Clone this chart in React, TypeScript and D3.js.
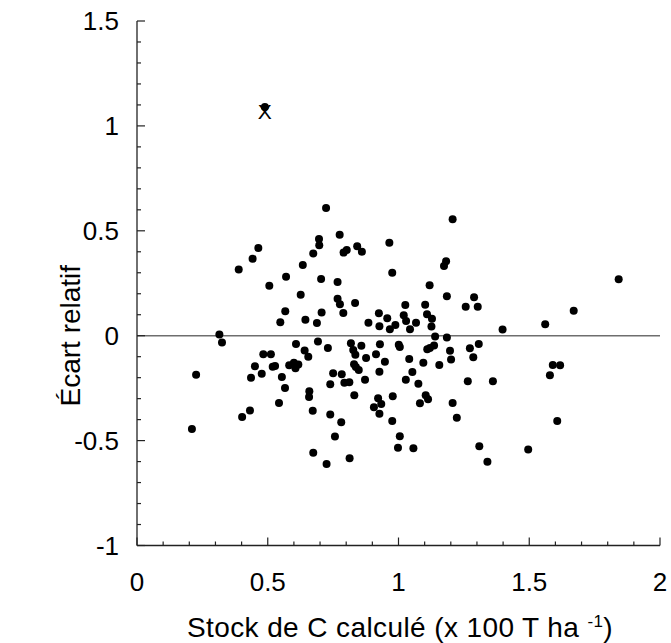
import React from "react";
import * as d3 from "d3";

const xTicks = [0, 0.5, 1, 1.5, 2];
const yTicks = [-1, -0.5, 0, 0.5, 1, 1.5];
const xTickLabels = ["0", "0.5", "1", "1.5", "2"];
const yTickLabels = ["-1", "-0.5", "0", "0.5", "1", "1.5"];

const stockX = [
  0.464, 0.442, 0.389, 0.506, 0.570, 0.634, 0.674, 0.696, 0.697, 0.626, 0.704, 0.567, 0.548, 0.644, 0.688, 0.706,
  0.315, 0.325, 0.608, 0.692, 0.641, 0.655, 0.483, 0.512, 0.451, 0.519, 0.528, 0.582, 0.600, 0.617, 0.606,
  0.477, 0.436, 0.554, 0.226, 0.566, 0.659, 0.658, 0.543, 0.432, 0.402, 0.672, 0.210, 0.674,
  0.723, 0.775, 0.790, 0.802, 0.842, 0.860, 0.965, 0.976, 0.767, 0.767, 0.776, 0.834, 1.119, 1.182, 1.174, 1.185,
  0.789, 0.885, 0.925, 0.927, 0.957, 0.967, 0.988, 1.026, 1.020, 1.029, 1.044, 1.067, 1.102, 1.109, 1.128, 1.126,
  1.140, 1.185, 0.730, 0.818, 0.827, 0.835, 0.858, 0.929, 1.001, 1.005, 0.914, 0.876, 0.948, 0.830, 0.837, 0.848,
  0.750, 0.783, 0.739, 0.793, 0.812, 0.872, 0.927, 1.041, 1.095, 1.110, 1.120, 1.136, 1.156, 1.197, 1.201, 1.053,
  1.028, 1.076, 0.831, 0.922, 0.934, 0.906, 0.927, 0.978, 1.104, 1.113, 1.082, 0.739, 0.781, 0.976, 0.757, 1.005,
  0.998, 1.057, 0.813, 0.725, 1.207, 1.289, 1.257, 1.303, 1.842, 1.670, 1.561, 1.398, 1.273, 1.286, 1.307, 1.265,
  1.361, 1.590, 1.618, 1.579, 1.207, 1.223, 1.607, 1.309, 1.496, 1.340, 0.489,
];

const ecartY = [
  0.418, 0.367, 0.316, 0.238, 0.281, 0.337, 0.392, 0.461, 0.431, 0.195, 0.270, 0.116, 0.064, 0.076, 0.060, 0.110,
  0.006, -0.033, -0.040, -0.028, -0.071, -0.100, -0.089, -0.089, -0.146, -0.148, -0.144, -0.141, -0.129, -0.137, -0.155,
  -0.181, -0.200, -0.197, -0.186, -0.249, -0.265, -0.292, -0.321, -0.357, -0.387, -0.358, -0.445, -0.558,
  0.609, 0.481, 0.396, 0.408, 0.426, 0.400, 0.443, 0.300, 0.256, 0.176, 0.150, 0.156, 0.240, 0.355, 0.332, 0.188,
  0.108, 0.062, 0.107, 0.045, 0.083, 0.031, 0.051, 0.146, 0.097, 0.070, 0.031, 0.062, 0.148, 0.102, 0.081, 0.044,
  -0.004, -0.008, -0.059, -0.036, -0.068, -0.091, -0.048, -0.041, -0.043, -0.054, -0.089, -0.106, -0.124, -0.136, -0.149, -0.163,
  -0.179, -0.184, -0.232, -0.224, -0.222, -0.210, -0.172, -0.111, -0.129, -0.065, -0.059, -0.047, -0.140, -0.072, -0.113, -0.173,
  -0.210, -0.229, -0.284, -0.298, -0.326, -0.341, -0.372, -0.289, -0.284, -0.303, -0.322, -0.375, -0.413, -0.407, -0.481, -0.479,
  -0.534, -0.537, -0.584, -0.612, 0.555, 0.183, 0.138, 0.138, 0.269, 0.119, 0.054, 0.029, -0.060, -0.103, -0.040, -0.217,
  -0.217, -0.140, -0.141, -0.189, -0.321, -0.391, -0.407, -0.527, -0.543, -0.601, 1.090,
];

const outlierX = [0.489];
const outlierY = [1.07];

const xTitle = "Stock de C calculé (x 100 T ha ";
const yTitle = "Écart relatif";

export default function App() {
  const x = d3.scaleLinear().domain([0, 2]).range([137, 660]);
  const y = d3.scaleLinear().domain([-1, 1.5]).range([545.5, 21]);
  const font = "Liberation Sans, Arial, sans-serif";
  const axisColor = "#222";
  const xMinor = d3.range(0, 2.0001, 0.1);
  const yMinor = d3.range(-1, 1.5001, 0.1);
  const isMajor = (v: number) => Math.abs(v * 2 - Math.round(v * 2)) < 1e-6;
  const pts = stockX.map((v, i) => ({ x: v, y: ecartY[i] }));

  return (
    <svg
      width={671}
      height={643}
      style={{ position: "absolute", left: 0, top: 0, background: "#fff" }}
      fontFamily={font}
    >
      {/* zero line */}
      <line x1={x(0)} x2={x(2)} y1={y(0)} y2={y(0)} stroke="#6e6e6e" strokeWidth={1.5} />

      {/* y axis */}
      <line x1={x(0)} x2={x(0)} y1={y(1.5)} y2={y(-1)} stroke={axisColor} strokeWidth={1.3} />
      {yMinor.map((v, i) => (
        <line
          key={"ym" + i}
          x1={x(0)}
          x2={x(0) + (isMajor(v) ? 8 : 4)}
          y1={y(v)}
          y2={y(v)}
          stroke={axisColor}
          strokeWidth={1.2}
        />
      ))}
      {yTicks.map((v, i) => (
        <text key={"yl" + i} x={119} y={y(v)} dy="0.36em" textAnchor="end" fontSize={26} fill="#000">
          {yTickLabels[i]}
        </text>
      ))}

      {/* x axis */}
      <line x1={x(0)} x2={x(2)} y1={y(-1)} y2={y(-1)} stroke={axisColor} strokeWidth={1.3} />
      {xMinor.map((v, i) => (
        <line
          key={"xm" + i}
          x1={x(v)}
          x2={x(v)}
          y1={y(-1)}
          y2={y(-1) - (isMajor(v) ? 8 : 4)}
          stroke={axisColor}
          strokeWidth={1.2}
        />
      ))}
      {xTicks.map((v, i) => (
        <text key={"xl" + i} x={x(v)} y={591} textAnchor="middle" fontSize={26} fill="#000">
          {xTickLabels[i]}
        </text>
      ))}

      {/* points */}
      {pts.map((p, i) => (
        <circle key={"p" + i} cx={x(p.x)} cy={y(p.y)} r={4} fill="#000" />
      ))}

      {/* outlier marker */}
      {outlierX.map((v, i) => (
        <text
          key={"o" + i}
          x={x(v)}
          y={y(outlierY[i])}
          dy="0.36em"
          textAnchor="middle"
          fontSize={21}
          fill="#000"
        >
          X
        </text>
      ))}

      {/* axis titles */}
      <text x={400} y={637} textAnchor="middle" fontSize={28} letterSpacing={0.4} fill="#000">
        {xTitle}
        <tspan fontSize={17} dy={-10}>-1</tspan>
        <tspan dy={10}>)</tspan>
      </text>
      <text
        transform={`translate(80, ${y(0)}) rotate(-90)`}
        textAnchor="middle"
        fontSize={28}
        fill="#000"
      >
        {yTitle}
      </text>
    </svg>
  );
}
